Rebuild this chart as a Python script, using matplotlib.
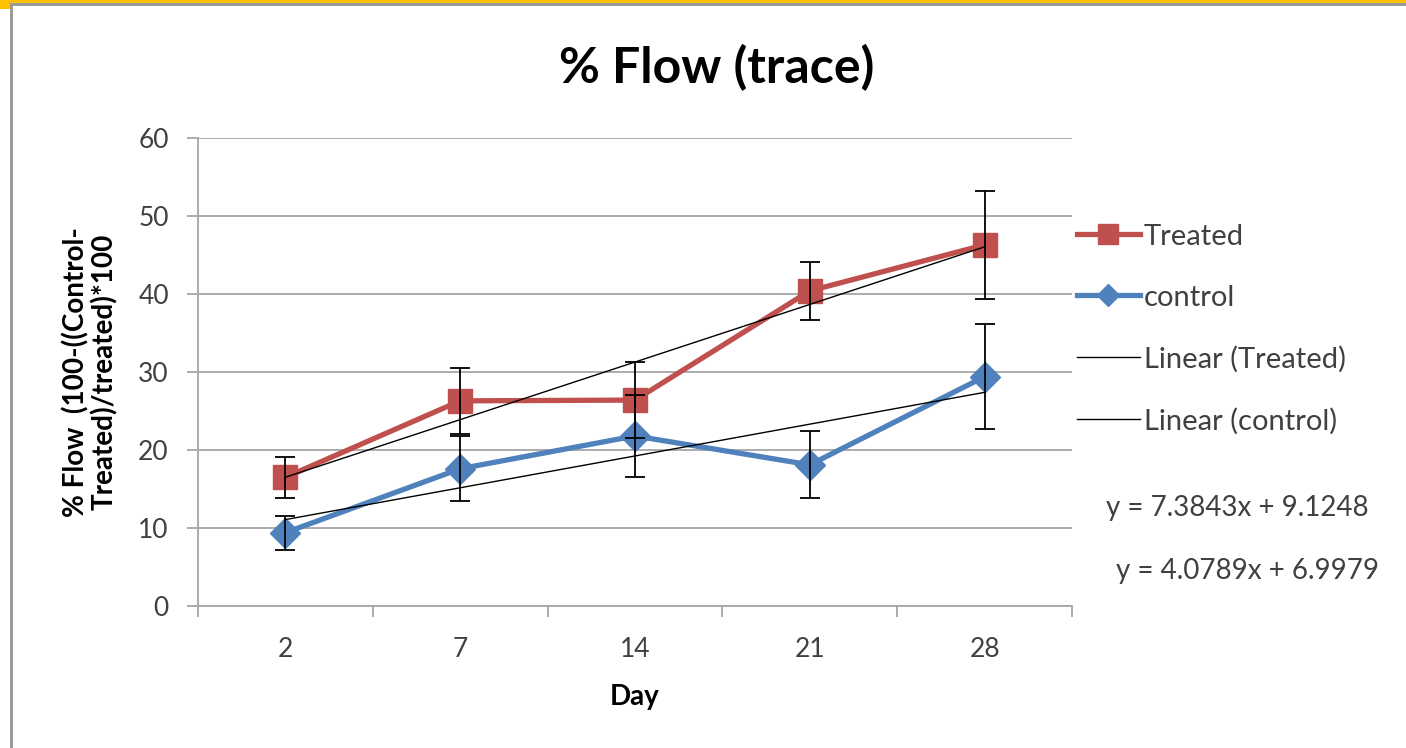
import matplotlib
matplotlib.use('Agg')
from matplotlib import pyplot as plt
from matplotlib.lines import Line2D
from matplotlib.patches import Rectangle
import numpy as np

days = ['2', '7', '14', '21', '28']
treated = [16.5, 26.3, 26.4, 40.4, 46.3]
treated_err = [2.6, 4.2, 4.9, 3.7, 6.9]
control = [9.4, 17.6, 21.8, 18.1, 29.4]
control_err = [2.2, 4.2, 5.3, 4.3, 6.7]
# Excel trendline coefficients (x = category index 1..5)
fit_treated = (7.3843, 9.1248)
fit_control = (4.0789, 6.9979)

plt.rcParams['font.family'] = ['Lato', 'DejaVu Sans']

red = '#C0504D'
blue = '#4F81BD'
grid_c = '#A6A6A6'
text_c = '#404040'

fig = plt.figure(figsize=(14.06, 7.48), dpi=100)
W, H = 1406, 748
ax = fig.add_axes([198 / W, 1 - 606 / H, (1072 - 198) / W, (606 - 138) / H])

x = np.arange(1, len(days) + 1)

ax.plot(x, treated, color=red, lw=3.8, marker='s', ms=17, zorder=3)
ax.plot(x, control, color=blue, lw=3.8, marker='D', ms=15, zorder=3)
ax.errorbar(x, treated, yerr=treated_err, fmt='none', ecolor='black',
            elinewidth=1.3, capsize=7, capthick=1.3, zorder=4)
ax.errorbar(x, control, yerr=control_err, fmt='none', ecolor='black',
            elinewidth=1.3, capsize=7, capthick=1.3, zorder=4)

ax.plot(x, fit_treated[0] * x + fit_treated[1], color='black', lw=1.0, zorder=5)
ax.plot(x, fit_control[0] * x + fit_control[1], color='black', lw=1.0, zorder=5)

ax.set_xlim(0.5, len(days) + 0.5)
ax.set_ylim(0, 60)
ax.set_yticks(np.arange(0, 61, 10))
ax.set_xticks(x)
ax.set_xticklabels(days)
ax.set_xticks(np.arange(0.5, len(days) + 1, 1), minor=True)
ax.tick_params(axis='x', which='major', length=0, pad=22, labelsize=19, labelcolor=text_c)
ax.tick_params(axis='x', which='minor', length=8, width=1.3, color=grid_c)
ax.tick_params(axis='y', length=8, width=1.3, color=grid_c, pad=13, labelsize=19, labelcolor=text_c)
ax.grid(axis='y', color=grid_c, lw=1.3)
ax.set_axisbelow(True)
for side in ['top', 'right']:
    ax.spines[side].set_visible(False)
for side in ['left', 'bottom']:
    ax.spines[side].set_color(grid_c)
    ax.spines[side].set_linewidth(1.3)

ax.set_xlabel('Day', fontsize=20, fontweight='bold', labelpad=16)

fig.text(717 / W, 1 - 68 / H, '% Flow (trace)', ha='center', va='center',
         fontsize=36, fontweight='bold')
fig.text(90 / W, 1 - 372 / H, '% Flow  (100-((Control-\nTreated)/treated)*100',
         rotation=90, ha='center', va='center', multialignment='center',
         fontsize=20, fontweight='bold', linespacing=1.05)

handles = [
    Line2D([], [], color=red, lw=3.8, marker='s', ms=14),
    Line2D([], [], color=blue, lw=3.8, marker='D', ms=11),
    Line2D([], [], color='black', lw=1.0),
    Line2D([], [], color='black', lw=1.0),
]
labels = ['Treated', 'control', 'Linear (Treated)', 'Linear (control)']
leg = ax.legend(handles, labels, loc='center left', bbox_to_anchor=(1077 / W, 1 - 329 / H),
                bbox_transform=fig.transFigure, frameon=False, fontsize=21,
                handlelength=2.15, handletextpad=0.15, labelspacing=1.2,
                borderpad=0, borderaxespad=0)
for t in leg.get_texts():
    t.set_color(text_c)

fig.text(1237 / W, 1 - 508 / H, 'y = 7.3843x + 9.1248', ha='center', va='center',
         fontsize=20, color=text_c)
fig.text(1247 / W, 1 - 571 / H, 'y = 4.0789x + 6.9979', ha='center', va='center',
         fontsize=20, color=text_c)

# frame pieces from the screenshot
fig.add_artist(Rectangle((0, 1 - 3 / H), 1, 3 / H, transform=fig.transFigure,
                         color='#FFC000', lw=0))
fig.add_artist(Rectangle((10 / W, 1 - 6 / H), 1, 3 / H, transform=fig.transFigure,
                         color='#9A9A9A', lw=0))
fig.add_artist(Rectangle((0, 1 - 9 / H), 10 / W, 9 / H, transform=fig.transFigure,
                         color='#FFC000', lw=0))
fig.add_artist(Rectangle((10 / W, 0), 3 / W, 1 - 6 / H, transform=fig.transFigure,
                         color='#9A9A9A', lw=0))

fig.savefig('out.png', dpi=100)
